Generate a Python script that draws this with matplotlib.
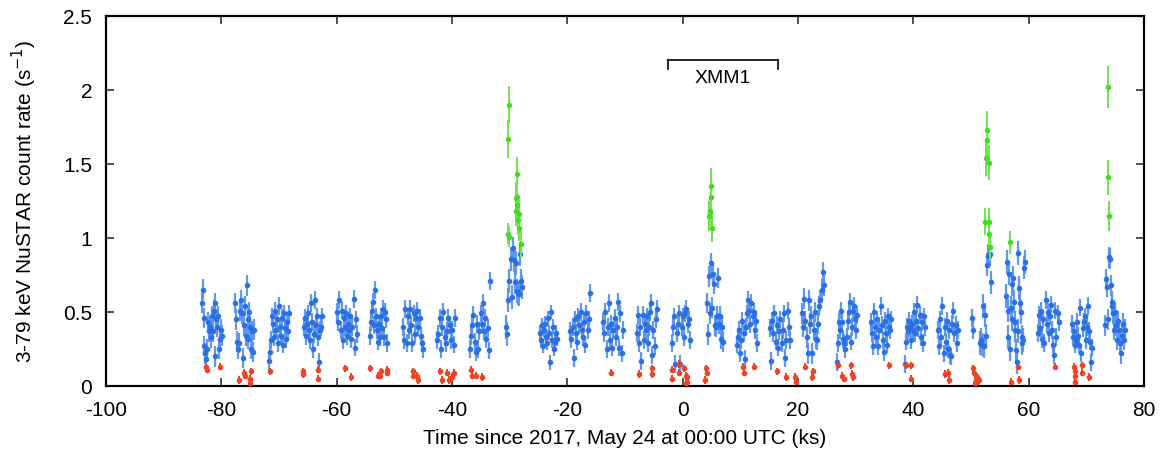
import numpy as np
import matplotlib
matplotlib.use("Agg")
import matplotlib.pyplot as plt
from matplotlib.ticker import FuncFormatter, MultipleLocator

plt.rcParams['font.family'] = ['Liberation Sans', 'DejaVu Sans']
plt.rcParams['axes.unicode_minus'] = False

# ---- blue: quiescent 3-79 keV rate, one entry per NuSTAR orbit window (ks) ----
orbit_start = [-83.4, -77.6, -71.7, -65.7, -59.9, -54.2, -48.5, -42.6, -36.9, -30.6,
               -24.7, -19.5, -13.8, -7.9, -1.9, 4.2, 9.4, 15.1, 20.7, 26.8,
               32.7, 38.5, 44.3, 50.1, 51.6, 56.1, 61.6, 67.5, 73.2]
orbit_end = [-79.9, -74.3, -68.3, -62.5, -56.5, -51.3, -45.0, -39.5, -33.4, -27.8,
             -21.8, -16.1, -10.4, -4.5, 1.3, 7.0, 12.9, 18.6, 24.5, 30.2,
             36.1, 42.0, 47.7, 50.3, 53.4, 59.3, 65.2, 71.0, 76.7]
blue_rates = [
    [0.56, 0.65, 0.46, 0.27, 0.22, 0.18, 0.25, 0.43, 0.37, 0.40, 0.33, 0.47, 0.37, 0.51, 0.20, 0.56, 0.45, 0.40, 0.47, 0.25, 0.32, 0.38, 0.34],
    [0.56, 0.45, 0.30, 0.25, 0.29, 0.51, 0.58, 0.49, 0.19, 0.41, 0.54, 0.34, 0.68, 0.45, 0.32, 0.50, 0.40, 0.25, 0.37, 0.23, 0.38],
    [0.17, 0.23, 0.31, 0.47, 0.42, 0.33, 0.51, 0.38, 0.45, 0.29, 0.54, 0.40, 0.34, 0.46, 0.28, 0.49, 0.39, 0.32, 0.43, 0.37, 0.49],
    [0.40, 0.46, 0.34, 0.42, 0.49, 0.38, 0.31, 0.56, 0.43, 0.25, 0.35, 0.58, 0.41, 0.47, 0.33, 0.16, 0.38, 0.40, 0.47],
    [0.50, 0.43, 0.58, 0.38, 0.51, 0.31, 0.46, 0.40, 0.49, 0.34, 0.42, 0.38, 0.47, 0.32, 0.40, 0.59, 0.26, 0.45, 0.35],
    [0.34, 0.43, 0.51, 0.57, 0.41, 0.65, 0.47, 0.38, 0.30, 0.42, 0.33, 0.47, 0.39, 0.52, 0.33, 0.50, 0.45, 0.29],
    [0.40, 0.31, 0.52, 0.29, 0.47, 0.38, 0.52, 0.41, 0.29, 0.49, 0.35, 0.46, 0.51, 0.40, 0.46, 0.34, 0.29, 0.25],
    [0.31, 0.35, 0.46, 0.25, 0.40, 0.50, 0.33, 0.29, 0.37, 0.46, 0.41, 0.31, 0.38, 0.28, 0.46],
    [0.25, 0.34, 0.41, 0.48, 0.30, 0.23, 0.42, 0.25, 0.37, 0.49, 0.42, 0.56, 0.37, 0.46, 0.32, 0.39, 0.24, 0.71],
    [0.40, 0.35, 0.58, 0.71, 0.86, 0.60, 0.93, 0.85, 0.70, 0.83, 0.64, 0.63, 0.62, 0.89, 0.71, 0.67],
    [0.36, 0.31, 0.41, 0.27, 0.38, 0.42, 0.33, 0.29, 0.46, 0.36, 0.16, 0.50, 0.31, 0.40, 0.25, 0.30, 0.36, 0.32],
    [0.37, 0.32, 0.40, 0.19, 0.45, 0.36, 0.30, 0.47, 0.41, 0.50, 0.38, 0.33, 0.43, 0.28, 0.49, 0.38, 0.45, 0.63],
    [0.43, 0.36, 0.50, 0.25, 0.40, 0.56, 0.31, 0.42, 0.26, 0.38, 0.46, 0.33, 0.40, 0.57, 0.26, 0.49, 0.22, 0.38],
    [0.36, 0.48, 0.29, 0.40, 0.17, 0.48, 0.31, 0.42, 0.38, 0.47, 0.29, 0.40, 0.50, 0.56, 0.21, 0.38, 0.27, 0.45, 0.52],
    [0.29, 0.40, 0.47, 0.15, 0.36, 0.42, 0.49, 0.15, 0.40, 0.47, 0.33, 0.49, 0.52, 0.42, 0.45, 0.31],
    [0.56, 0.35, 0.74, 0.49, 0.83, 0.53, 0.76, 0.69, 0.41, 0.40, 0.47, 0.73, 0.42, 0.47, 0.32, 0.40, 0.30],
    [0.28, 0.33, 0.38, 0.22, 0.31, 0.44, 0.36, 0.18, 0.40, 0.49, 0.58, 0.51, 0.42, 0.56, 0.47, 0.50, 0.38, 0.44, 0.29],
    [0.39, 0.17, 0.44, 0.36, 0.49, 0.30, 0.41, 0.26, 0.37, 0.45, 0.29, 0.38, 0.49, 0.19, 0.31, 0.51, 0.40, 0.31],
    [0.49, 0.40, 0.59, 0.44, 0.33, 0.22, 0.58, 0.42, 0.47, 0.22, 0.38, 0.50, 0.32, 0.31, 0.42, 0.54, 0.58, 0.65, 0.77, 0.68],
    [0.16, 0.29, 0.43, 0.38, 0.51, 0.43, 0.32, 0.29, 0.25, 0.33, 0.44, 0.50, 0.57, 0.30, 0.40, 0.51, 0.54, 0.45, 0.38, 0.48],
    [0.43, 0.36, 0.27, 0.50, 0.40, 0.33, 0.45, 0.27, 0.38, 0.54, 0.41, 0.31, 0.23, 0.44, 0.36, 0.28, 0.47, 0.40, 0.38, 0.45],
    [0.15, 0.30, 0.40, 0.37, 0.44, 0.39, 0.31, 0.42, 0.38, 0.50, 0.36, 0.44, 0.55, 0.39, 0.48, 0.33, 0.43, 0.29, 0.47, 0.40],
    [0.38, 0.27, 0.45, 0.33, 0.54, 0.22, 0.40, 0.30, 0.44, 0.25, 0.38, 0.21, 0.20, 0.42, 0.51, 0.36, 0.41, 0.29, 0.38],
    [0.46, 0.38],
    [0.29, 0.31, 0.28, 0.54, 0.27, 0.48, 0.34, 0.82, 0.88, 0.88, 0.89, 0.70],
    [0.61, 0.84, 0.33, 0.51, 0.76, 0.25, 0.53, 0.45, 0.69, 0.73, 0.57, 0.43, 0.38, 0.24, 0.16, 0.90, 0.37, 0.66, 0.56, 0.50, 0.29, 0.33, 0.31, 0.80, 0.84],
    [0.36, 0.48, 0.39, 0.51, 0.32, 0.45, 0.29, 0.58, 0.42, 0.50, 0.36, 0.47, 0.55, 0.38, 0.28, 0.21, 0.51, 0.33, 0.49, 0.43],
    [0.42, 0.33, 0.37, 0.28, 0.31, 0.43, 0.34, 0.28, 0.53, 0.22, 0.39, 0.43, 0.47, 0.31, 0.40, 0.54, 0.37, 0.30, 0.16, 0.26],
    [0.41, 0.72, 0.67, 0.45, 0.87, 0.86, 0.68, 0.54, 0.57, 0.49, 0.38, 0.50, 0.41, 0.31, 0.44, 0.38, 0.29, 0.22, 0.34, 0.42, 0.31, 0.38],
]
blue_err = [0.07, 0.07, 0.06, 0.06, 0.06, 0.06, 0.06, 0.06, 0.06, 0.08,
            0.05, 0.06, 0.06, 0.06, 0.06, 0.07, 0.06, 0.06, 0.07, 0.06,
            0.06, 0.06, 0.06, 0.06, 0.08, 0.08, 0.06, 0.06, 0.07]

# ---- green: flare bins ----
green_t = [-30.35, -30.12, -30.24, -30.12, -28.96, -28.90, -28.79, -28.67, -28.61, -28.38, -28.32, -28.03, -28.79,
           4.56, 4.74, 4.85, 4.97, 5.08,
           52.48, 52.59, 52.71, 52.82, 53.11, 53.17, 53.05, 53.28, 56.75,
           73.80, 73.70, 73.92]
green_y = [1.03, 1.01, 1.67, 1.90, 1.18, 1.27, 1.43, 1.28, 1.12, 1.16, 1.07, 0.96, 1.22,
           1.15, 1.18, 1.28, 1.35, 1.07,
           1.11, 1.54, 1.66, 1.73, 1.51, 1.11, 1.03, 0.94, 0.97,
           2.02, 1.41, 1.15]
green_err = [0.07, 0.07, 0.13, 0.13, 0.10, 0.11, 0.12, 0.11, 0.10, 0.10, 0.09, 0.09, 0.10,
             0.10, 0.10, 0.11, 0.12, 0.10,
             0.09, 0.12, 0.13, 0.13, 0.12, 0.09, 0.09, 0.09, 0.08,
             0.14, 0.12, 0.10]

# ---- red: low-rate bins ----
red_t = [-82.6, -82.4, -80.3, -76.9, -76.0, -75.9, -75.1, -75.0, -74.9, -71.6,
         -65.9, -65.8, -63.3, -63.3, -58.6, -57.6, -54.2, -52.9, -52.5, -52.3, -51.3, -51.2,
         -46.8, -46.7, -46.1, -45.9, -42.0, -41.8, -40.8, -40.5, -40.0, -39.7,
         -36.7, -36.5, -35.9, -34.8, -12.5, -7.6, -5.4, -5.3,
         -1.9, -1.9, -0.7, -0.6, 0.3, 0.5, 0.7, 0.8, 0.6, 4.0, 4.2, 3.9,
         10.5, 10.6, 12.4, 16.3, 17.9, 19.4, 19.6, 21.3, 22.6, 22.5,
         27.0, 27.7, 27.9, 29.2, 29.3, 29.5, 35.7, 38.7, 39.6, 39.6,
         45.5, 46.0, 46.1, 50.4, 50.6, 50.8, 50.9, 51.1, 51.3, 51.4, 50.7, 51.0,
         56.9, 58.2, 58.3, 64.6, 67.85, 68.0, 68.1, 68.0, 69.2, 69.3, 70.5]
red_y = [0.13, 0.11, 0.13, 0.04, 0.09, 0.07, 0.05, 0.02, 0.10, 0.10,
         0.10, 0.08, 0.11, 0.05, 0.12, 0.06, 0.12, 0.07, 0.07, 0.10, 0.09, 0.11,
         0.10, 0.07, 0.07, 0.04, 0.10, 0.04, 0.09, 0.04, 0.06, 0.09,
         0.11, 0.07, 0.07, 0.06, 0.09, 0.08, 0.12, 0.08,
         0.11, 0.05, 0.09, 0.15, 0.12, 0.07, 0.03, 0.06, 0.02, 0.12, 0.09, 0.04,
         0.13, 0.09, 0.13, 0.10, 0.06, 0.06, 0.03, 0.13, 0.10, 0.06,
         0.14, 0.07, 0.05, 0.14, 0.08, 0.06, 0.14, 0.14, 0.14, 0.05,
         0.08, 0.09, 0.04, 0.12, 0.09, 0.07, 0.04, 0.06, 0.05, 0.04, 0.02, 0.03,
         0.03, 0.13, 0.04, 0.13, 0.13, 0.10, 0.07, 0.03, 0.14, 0.09, 0.06]
red_err = 0.025

xmm_label = "XMM1"
xmm_start, xmm_end, xmm_level = -2.6, 16.5, 2.2

xticks = [-100, -80, -60, -40, -20, 0, 20, 40, 60, 80]
yticks = [0, 0.5, 1, 1.5, 2, 2.5]

BLUE = '#2a6fe3'
BLUE_E = '#5a93ec'
RED = '#ee4524'
GREEN = '#45dd24'
GREEN_E = '#6ee64e'

fig = plt.figure(figsize=(11.64, 4.53), dpi=100)
ax = fig.add_axes([106 / 1164, 67 / 453, (1144 - 106) / 1164, (386 - 16) / 453])

bt, by, be = [], [], []
for s, e, rates, err in zip(orbit_start, orbit_end, blue_rates, blue_err):
    bt.extend(np.linspace(s, e, len(rates)))
    by.extend(rates)
    be.extend([err] * len(rates))

ax.errorbar(bt, by, yerr=be, fmt='o', ms=3.0, color=BLUE, mec=BLUE, ecolor=BLUE_E,
            elinewidth=1.6, capsize=0, alpha=0.95, zorder=3)
ax.errorbar(red_t, red_y, yerr=red_err, fmt='o', ms=3.0, color=RED, mec=RED,
            ecolor=RED, elinewidth=1.4, capsize=0, zorder=3)
ax.errorbar(green_t, green_y, yerr=green_err, fmt='o', ms=3.0, color=GREEN, mec=GREEN,
            ecolor=GREEN_E, elinewidth=1.4, capsize=0, zorder=4)

# XMM interval marker
ax.plot([xmm_start, xmm_end], [xmm_level, xmm_level], color='black', lw=1.2)
ax.plot([xmm_start, xmm_start], [xmm_level, xmm_level - 0.06], color='black', lw=1.2)
ax.plot([xmm_end, xmm_end], [xmm_level, xmm_level - 0.06], color='black', lw=1.2)
ax.text((xmm_start + xmm_end) / 2, xmm_level - 0.065, xmm_label, ha='center', va='top',
        fontsize=14)

ax.set_xlim(-100, 80)
ax.set_ylim(0, 2.5)
ax.set_xticks(xticks)
ax.set_yticks(yticks)
ax.yaxis.set_major_formatter(FuncFormatter(lambda v, p: '%g' % v))
ax.tick_params(direction='in', length=6, width=1.2, top=True, right=True,
               labelsize=15, color='#333333')
ax.tick_params(axis='y', pad=10)
ax.tick_params(axis='x', pad=11)
for sp in ax.spines.values():
    sp.set_linewidth(1.6)

ax.set_xlabel('Time since 2017, May 24 at 00:00 UTC (ks)', fontsize=15, labelpad=6)
ax.set_ylabel('3-79 keV NuSTAR count rate (s$^{-1}$)', fontsize=15, labelpad=17)

fig.savefig('out.png', dpi=100)
